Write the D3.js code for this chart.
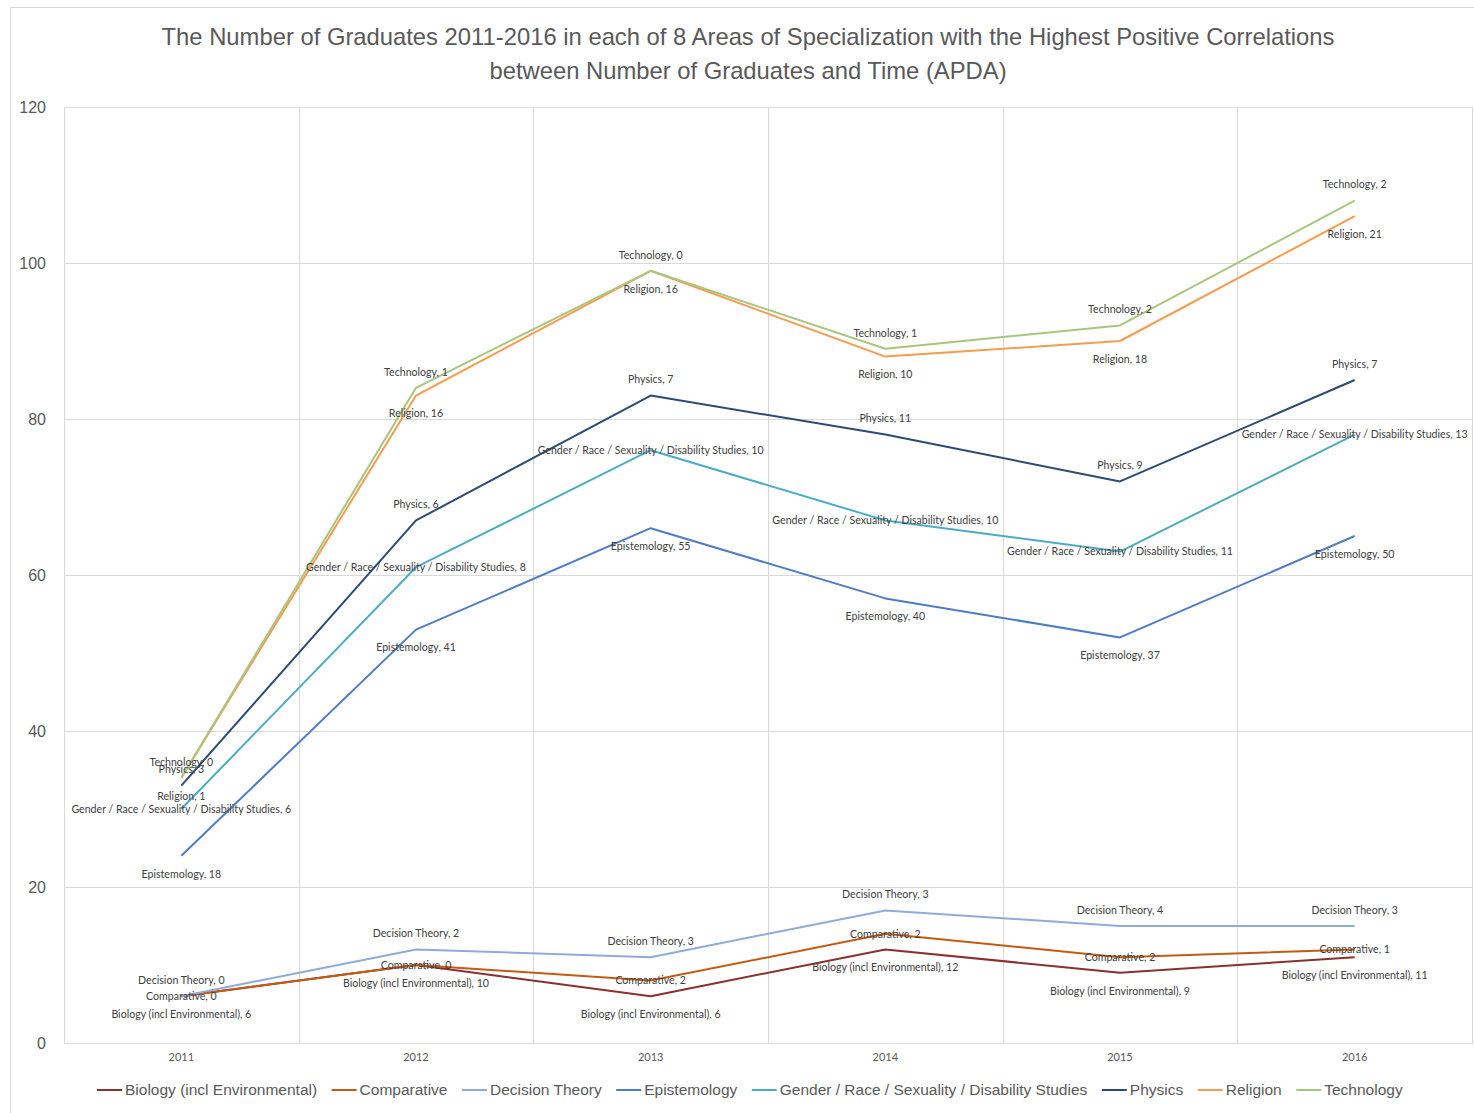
<!DOCTYPE html>
<html>
<head>
<meta charset="utf-8">
<script src="https://cdn.jsdelivr.net/npm/d3@7"></script>
<style>
  html, body { margin: 0; padding: 0; background: #fff; }
  svg { display: block; }
</style>
</head>
<body>
<svg id="chart" width="1474" height="1113"></svg>
<script>
// Graduates per year in each area (APDA), stacked in this order
const years = ["2011", "2012", "2013", "2014", "2015", "2016"];
const areas = [
  "Biology (incl Environmental)",
  "Comparative",
  "Decision Theory",
  "Epistemology",
  "Gender / Race / Sexuality / Disability Studies",
  "Physics",
  "Religion",
  "Technology"
];
const biology        = [6, 10, 6, 12, 9, 11];
const comparative    = [0, 0, 2, 2, 2, 1];
const decisionTheory = [0, 2, 3, 3, 4, 3];
const epistemology   = [18, 41, 55, 40, 37, 50];
const gender         = [6, 8, 10, 10, 11, 13];
const physics        = [3, 6, 7, 11, 9, 7];
const religion       = [1, 16, 16, 10, 18, 21];
const technology     = [0, 1, 0, 1, 2, 2];
const yTicks = [0, 20, 40, 60, 80, 100, 120];

const seriesValues = [biology, comparative, decisionTheory, epistemology, gender, physics, religion, technology];

// Styling per area
const colors = ["#8B2F30", "#C55A11", "#8FAADC", "#4F7CC4", "#4BACC6", "#2C4A74", "#F79B4F", "#A9C57E"];
const labelPlacement = ["below", "center", "above", "below", "center", "above", "below", "above"];

const rows = years.map((y, i) => {
  const r = { year: y };
  areas.forEach((a, k) => { r[a] = seriesValues[k][i]; });
  return r;
});
const stacked = d3.stack().keys(areas)(rows);

const svg = d3.select("#chart");
const plot = { left: 64, right: 1472, top: 107, bottom: 1043 };

// Outer chart frame
svg.append("path")
  .attr("d", `M10.5,1113 V7.5 H1474`)
  .attr("fill", "none").attr("stroke", "#d9d9d9").attr("stroke-width", 1);

const x = d3.scaleBand().domain(years).range([plot.left, plot.right]);
const y = d3.scaleLinear().domain([0, 120]).range([plot.bottom, plot.top]);
const cx = d => x(d) + x.bandwidth() / 2;

// Gridlines
const grid = svg.append("g").attr("stroke", "#d9d9d9").attr("stroke-width", 1);
grid.selectAll("line.h").data(yTicks).join("line")
  .attr("x1", plot.left).attr("x2", plot.right)
  .attr("y1", d => Math.round(y(d)) + 0.5).attr("y2", d => Math.round(y(d)) + 0.5);
grid.selectAll("line.v").data(years.slice(1)).join("line")
  .attr("y1", plot.top).attr("y2", plot.bottom)
  .attr("x1", d => Math.round(x(d)) + 0.5).attr("x2", d => Math.round(x(d)) + 0.5);
svg.append("rect")
  .attr("x", plot.left + 0.5).attr("y", plot.top + 0.5)
  .attr("width", plot.right - plot.left).attr("height", plot.bottom - plot.top)
  .attr("fill", "none").attr("stroke", "#d9d9d9");

// Y axis labels
const yAxis = svg.append("g").attr("transform", `translate(${plot.left - 18},0)`)
  .call(d3.axisLeft(y).tickValues(yTicks).tickSize(0).tickPadding(0));
yAxis.select(".domain").remove();
yAxis.selectAll("text")
  .attr("font-family", "'Liberation Sans', Arial, sans-serif")
  .attr("font-size", 16).attr("fill", "#595959");

// X axis labels
const xAxis = svg.append("g").attr("transform", `translate(0,${plot.bottom + 10})`)
  .call(d3.axisBottom(x).tickSize(0).tickPadding(0));
xAxis.select(".domain").remove();
xAxis.selectAll("text")
  .attr("font-family", "Lato, 'Open Sans', sans-serif")
  .attr("font-size", 11).attr("fill", "#595959");

// Lines
const line = d3.line().x(d => cx(d.data.year)).y(d => y(d[1]));
svg.append("g").selectAll("path").data(stacked).join("path")
  .attr("d", d => line(d))
  .attr("fill", "none")
  .attr("stroke", (d, i) => colors[i])
  .attr("stroke-width", 2)
  .attr("stroke-linejoin", "round");

// Data labels: "<area>, <value>"
const offsets = { above: -16, below: 18, center: 0 };
const labels = svg.append("g")
  .attr("font-family", "Lato, 'Open Sans', sans-serif")
  .attr("font-size", 10.6).attr("fill", "#404040")
  .attr("text-anchor", "middle");
stacked.forEach((s, k) => {
  labels.selectAll(null).data(s).join("text")
    .attr("x", d => cx(d.data.year))
    .attr("y", d => y(d[1]) + offsets[labelPlacement[k]])
    .attr("dy", "0.35em")
    .text(d => `${areas[k]}, ${d.data[areas[k]]}`);
});

// Title
const title = svg.append("text")
  .attr("text-anchor", "middle")
  .attr("font-family", "'Liberation Sans', Arial, sans-serif")
  .attr("font-size", 23.8).attr("fill", "#595959");
title.append("tspan").attr("x", 748).attr("y", 45)
  .text("The Number of Graduates 2011-2016 in each of 8 Areas of Specialization with the Highest Positive Correlations");
title.append("tspan").attr("x", 748).attr("y", 79)
  .text("between Number of Graduates and Time (APDA)");

// Legend
const legend = svg.append("g").attr("transform", "translate(97,1090)");
let lx = 0;
areas.forEach((a, k) => {
  const g = legend.append("g").attr("transform", `translate(${lx},0)`);
  g.append("line").attr("x1", 0).attr("x2", 25).attr("y1", 0).attr("y2", 0)
    .attr("stroke", colors[k]).attr("stroke-width", 2);
  const t = g.append("text").attr("x", 28).attr("dy", "0.35em")
    .attr("font-family", "'Liberation Sans', Arial, sans-serif")
    .attr("font-size", 15.5).attr("fill", "#595959").text(a);
  lx += 28 + t.node().getComputedTextLength() + 14.5;
});
</script>
</body>
</html>
